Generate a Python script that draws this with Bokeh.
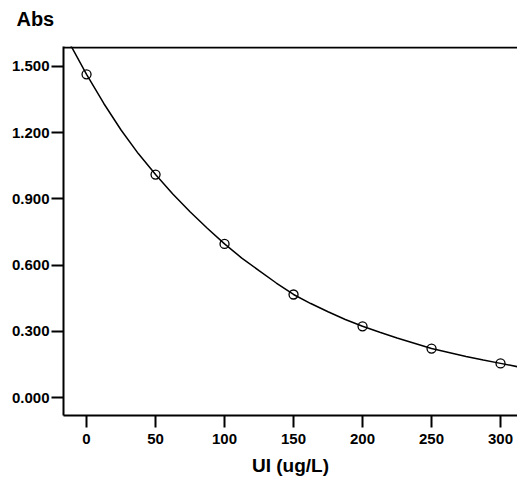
from bokeh.plotting import figure
from bokeh.models import Range1d, FixedTicker, NumeralTickFormatter, Span, Label
from bokeh.embed import file_html
from bokeh.resources import INLINE

# Calibration standards: concentration (ug/L) and measured absorbance
conc = [0, 50, 100, 150, 200, 250, 300]
absorbance = [1.464, 1.010, 0.696, 0.467, 0.323, 0.222, 0.155]

# Fitted calibration curve, sampled along the concentration axis
curve_x = [-16.7, 0, 12.5, 25, 37.5, 50, 62.5, 75, 87.5, 100, 112.5, 125, 137.5,
           150, 162.5, 175, 187.5, 200, 212.5, 225, 237.5, 250, 262.5, 275,
           287.5, 300, 313]
curve_y = [1.655, 1.464, 1.332, 1.212, 1.105, 1.010, 0.922, 0.842, 0.767, 0.696,
           0.632, 0.575, 0.519, 0.467, 0.426, 0.389, 0.354, 0.323, 0.296, 0.270,
           0.246, 0.222, 0.204, 0.186, 0.170, 0.155, 0.139]

x_ticks = [0, 50, 100, 150, 200, 250, 300]
y_ticks = [0.0, 0.3, 0.6, 0.9, 1.2, 1.5]

FONT = "Liberation Sans"

p = figure(width=517, height=478, output_backend="svg", toolbar_location=None,
           x_range=Range1d(-16.7, 312.3), y_range=Range1d(-0.081, 1.59),
           min_border_left=63, min_border_right=0, min_border_top=46,
           min_border_bottom=60)

p.grid.visible = False
p.outline_line_color = None
p.background_fill_color = "white"
p.border_fill_color = "white"

for ax in (p.xaxis[0], p.yaxis[0]):
    ax.axis_line_width = 2
    ax.axis_line_color = "black"
    ax.major_tick_line_width = 2
    ax.major_tick_line_color = "black"
    ax.major_tick_in = 0
    ax.major_tick_out = 12
    ax.minor_tick_line_color = None
    ax.major_label_text_font = FONT
    ax.major_label_text_font_size = "15px"
    ax.major_label_text_font_style = "bold"
    ax.major_label_text_color = "black"

p.xaxis.ticker = FixedTicker(ticks=x_ticks)
p.yaxis.ticker = FixedTicker(ticks=y_ticks)
p.yaxis.formatter = NumeralTickFormatter(format="0.000")
p.xaxis.major_label_standoff = 6
p.yaxis.major_label_standoff = 2

p.xaxis.axis_label = "UI (ug/L)"
p.xaxis.axis_label_text_font = FONT
p.xaxis.axis_label_text_font_size = "19px"
p.xaxis.axis_label_text_font_style = "bold"
p.xaxis.axis_label_text_color = "black"
p.xaxis.axis_label_standoff = 8

# y-axis caption, set horizontally above the axis in the top border
p.add_layout(Label(x=-50.8, y=1.716, text="Abs",
                   text_font=FONT, text_font_size="20px", text_font_style="bold",
                   text_color="black", text_baseline="middle", text_align="left"),
             "above")

# top border line of the plotting area
p.add_layout(Span(location=1.5855, dimension="width", line_color="black",
                  line_width=2))

p.line(curve_x, curve_y, line_color="black", line_width=1.5)
p.scatter(conc, absorbance, marker="circle", size=9, fill_color=None,
          line_color="black", line_width=1.3)

open("out.html", "w").write(file_html(p, INLINE))
